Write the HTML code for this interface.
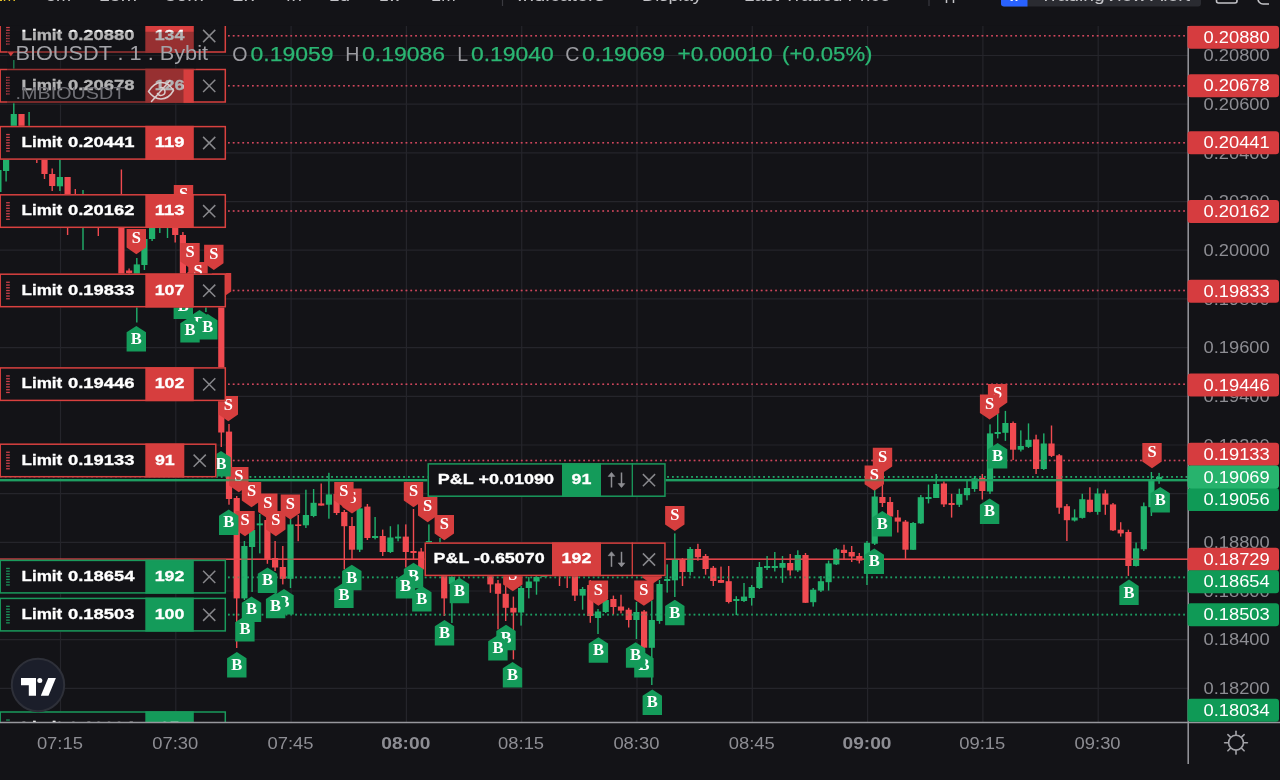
<!DOCTYPE html>
<html><head><meta charset="utf-8"><title>BIOUSDT chart</title>
<style>html,body{margin:0;padding:0;background:#131317;width:1280px;height:780px;overflow:hidden;font-family:"Liberation Sans",sans-serif}</style>
</head><body>
<svg width="1280" height="780" viewBox="0 0 1280 780" style="display:block;will-change:transform">
<rect width="1280" height="780" fill="#131317"/>
<defs><clipPath id="chart"><rect x="0" y="26" width="1188.5" height="696"/></clipPath><clipPath id="axis"><rect x="1188" y="24" width="92" height="700"/></clipPath></defs>
<g stroke="#25252b" stroke-width="1.2" clip-path="url(#chart)">
<line x1="60.5" y1="26" x2="60.5" y2="722"/>
<line x1="175.8" y1="26" x2="175.8" y2="722"/>
<line x1="291.1" y1="26" x2="291.1" y2="722"/>
<line x1="406.4" y1="26" x2="406.4" y2="722"/>
<line x1="521.7" y1="26" x2="521.7" y2="722"/>
<line x1="637.0" y1="26" x2="637.0" y2="722"/>
<line x1="752.3" y1="26" x2="752.3" y2="722"/>
<line x1="867.6" y1="26" x2="867.6" y2="722"/>
<line x1="982.9" y1="26" x2="982.9" y2="722"/>
<line x1="1098.2" y1="26" x2="1098.2" y2="722"/>
<line x1="0" y1="55.5" x2="1188" y2="55.5"/>
<line x1="0" y1="104.2" x2="1188" y2="104.2"/>
<line x1="0" y1="152.9" x2="1188" y2="152.9"/>
<line x1="0" y1="201.6" x2="1188" y2="201.6"/>
<line x1="0" y1="250.2" x2="1188" y2="250.2"/>
<line x1="0" y1="298.9" x2="1188" y2="298.9"/>
<line x1="0" y1="347.6" x2="1188" y2="347.6"/>
<line x1="0" y1="396.3" x2="1188" y2="396.3"/>
<line x1="0" y1="445.0" x2="1188" y2="445.0"/>
<line x1="0" y1="493.7" x2="1188" y2="493.7"/>
<line x1="0" y1="542.3" x2="1188" y2="542.3"/>
<line x1="0" y1="591.0" x2="1188" y2="591.0"/>
<line x1="0" y1="639.7" x2="1188" y2="639.7"/>
<line x1="0" y1="688.4" x2="1188" y2="688.4"/>
</g>
<g clip-path="url(#chart)">
<line x1="228" y1="35.8" x2="1188" y2="35.8" stroke="#cf475d" stroke-width="1.6" stroke-dasharray="1.7 3.1" />
<line x1="228" y1="85.7" x2="1188" y2="85.7" stroke="#cf475d" stroke-width="1.6" stroke-dasharray="1.7 3.1" />
<line x1="228" y1="142.8" x2="1188" y2="142.8" stroke="#cf475d" stroke-width="1.6" stroke-dasharray="1.7 3.1" />
<line x1="228" y1="211.0" x2="1188" y2="211.0" stroke="#cf475d" stroke-width="1.6" stroke-dasharray="1.7 3.1" />
<line x1="228" y1="290.5" x2="1188" y2="290.5" stroke="#cf475d" stroke-width="1.6" stroke-dasharray="1.7 3.1" />
<line x1="228" y1="384.2" x2="1188" y2="384.2" stroke="#cf475d" stroke-width="1.6" stroke-dasharray="1.7 3.1" />
<line x1="218.5" y1="460.5" x2="1188" y2="460.5" stroke="#cf475d" stroke-width="1.6" stroke-dasharray="1.7 3.1" />
<line x1="228" y1="577.4" x2="1188" y2="577.4" stroke="#1d9d62" stroke-width="1.6" stroke-dasharray="1.7 3.1" />
<line x1="228" y1="614.6" x2="1188" y2="614.6" stroke="#1d9d62" stroke-width="1.6" stroke-dasharray="1.7 3.1" />
<line x1="228" y1="728.3" x2="1188" y2="728.3" stroke="#1d9d62" stroke-width="1.6" stroke-dasharray="1.7 3.1" />
<line x1="0" y1="476.9" x2="1188" y2="476.9" stroke="#23a868" stroke-width="1.6" stroke-dasharray="1.7 3.1" />
<line x1="0" y1="480.2" x2="1188" y2="480.2" stroke="#1f9e62" stroke-width="2.2"/>
<line x1="0" y1="559.3" x2="1188" y2="559.3" stroke="#e0444a" stroke-width="1.4"/>
</g>
<g clip-path="url(#chart)">
<rect x="-2.3" y="165.0" width="1.4" height="30.0" fill="#21b16c"/>
<rect x="-4.7" y="170.0" width="6.2" height="22.0" fill="#21b16c"/>
<rect x="5.4" y="146.0" width="1.4" height="35.5" fill="#21b16c"/>
<rect x="3.0" y="150.0" width="6.2" height="21.0" fill="#21b16c"/>
<rect x="13.1" y="60.0" width="1.4" height="80.0" fill="#21b16c"/>
<rect x="10.7" y="114.0" width="6.2" height="21.0" fill="#21b16c"/>
<rect x="20.8" y="114.0" width="1.4" height="39.0" fill="#f04a50"/>
<rect x="18.4" y="114.0" width="6.2" height="36.0" fill="#f04a50"/>
<rect x="28.4" y="112.0" width="1.4" height="38.0" fill="#21b16c"/>
<rect x="26.0" y="128.0" width="6.2" height="20.0" fill="#21b16c"/>
<rect x="36.1" y="130.0" width="1.4" height="33.0" fill="#f04a50"/>
<rect x="33.7" y="135.0" width="6.2" height="21.0" fill="#f04a50"/>
<rect x="43.8" y="146.0" width="1.4" height="33.0" fill="#f04a50"/>
<rect x="41.4" y="150.0" width="6.2" height="24.0" fill="#f04a50"/>
<rect x="51.5" y="168.5" width="1.4" height="22.5" fill="#f04a50"/>
<rect x="49.1" y="174.0" width="6.2" height="12.0" fill="#f04a50"/>
<rect x="59.2" y="155.0" width="1.4" height="36.0" fill="#21b16c"/>
<rect x="56.8" y="177.0" width="6.2" height="9.3" fill="#21b16c"/>
<rect x="66.9" y="177.0" width="1.4" height="58.0" fill="#f04a50"/>
<rect x="64.5" y="177.0" width="6.2" height="51.0" fill="#f04a50"/>
<rect x="74.6" y="189.0" width="1.4" height="37.0" fill="#f04a50"/>
<rect x="72.2" y="200.0" width="6.2" height="22.0" fill="#f04a50"/>
<rect x="82.3" y="190.0" width="1.4" height="60.0" fill="#21b16c"/>
<rect x="79.9" y="205.0" width="6.2" height="17.0" fill="#21b16c"/>
<rect x="89.9" y="200.0" width="1.4" height="25.0" fill="#f04a50"/>
<rect x="87.5" y="205.0" width="6.2" height="17.0" fill="#f04a50"/>
<rect x="97.6" y="198.0" width="1.4" height="38.0" fill="#f04a50"/>
<rect x="95.2" y="200.0" width="6.2" height="26.0" fill="#f04a50"/>
<rect x="105.3" y="200.0" width="1.4" height="26.0" fill="#21b16c"/>
<rect x="102.9" y="204.0" width="6.2" height="18.0" fill="#21b16c"/>
<rect x="113.0" y="198.0" width="1.4" height="26.0" fill="#f04a50"/>
<rect x="110.6" y="202.0" width="6.2" height="18.0" fill="#f04a50"/>
<rect x="120.7" y="169.5" width="1.4" height="120.5" fill="#f04a50"/>
<rect x="118.3" y="200.0" width="6.2" height="85.0" fill="#f04a50"/>
<rect x="128.4" y="268.5" width="1.4" height="7.5" fill="#f04a50"/>
<rect x="126.0" y="270.5" width="6.2" height="2.5" fill="#f04a50"/>
<rect x="136.1" y="258.0" width="1.4" height="64.5" fill="#21b16c"/>
<rect x="133.7" y="264.4" width="6.2" height="20.6" fill="#21b16c"/>
<rect x="143.7" y="232.0" width="1.4" height="38.0" fill="#21b16c"/>
<rect x="141.3" y="239.0" width="6.2" height="26.0" fill="#21b16c"/>
<rect x="151.4" y="218.0" width="1.4" height="23.0" fill="#21b16c"/>
<rect x="149.0" y="222.0" width="6.2" height="17.0" fill="#21b16c"/>
<rect x="159.1" y="210.0" width="1.4" height="23.0" fill="#21b16c"/>
<rect x="156.7" y="214.0" width="6.2" height="14.0" fill="#21b16c"/>
<rect x="166.8" y="208.0" width="1.4" height="30.0" fill="#21b16c"/>
<rect x="164.4" y="212.0" width="6.2" height="14.0" fill="#21b16c"/>
<rect x="174.5" y="215.0" width="1.4" height="27.5" fill="#f04a50"/>
<rect x="172.1" y="220.0" width="6.2" height="15.0" fill="#f04a50"/>
<rect x="182.2" y="232.0" width="1.4" height="48.0" fill="#f04a50"/>
<rect x="179.8" y="235.0" width="6.2" height="40.0" fill="#f04a50"/>
<rect x="189.9" y="268.0" width="1.4" height="34.0" fill="#f04a50"/>
<rect x="187.5" y="272.0" width="6.2" height="26.0" fill="#f04a50"/>
<rect x="197.6" y="276.0" width="1.4" height="28.0" fill="#21b16c"/>
<rect x="195.2" y="280.0" width="6.2" height="20.0" fill="#21b16c"/>
<rect x="205.2" y="278.0" width="1.4" height="34.0" fill="#21b16c"/>
<rect x="202.8" y="282.0" width="6.2" height="18.0" fill="#21b16c"/>
<rect x="212.9" y="276.0" width="1.4" height="24.0" fill="#f04a50"/>
<rect x="210.5" y="280.0" width="6.2" height="12.0" fill="#f04a50"/>
<rect x="220.6" y="280.0" width="1.4" height="167.0" fill="#f04a50"/>
<rect x="218.2" y="285.0" width="6.2" height="147.5" fill="#f04a50"/>
<rect x="228.3" y="424.0" width="1.4" height="80.7" fill="#f04a50"/>
<rect x="225.9" y="431.6" width="6.2" height="67.4" fill="#f04a50"/>
<rect x="236.0" y="496.0" width="1.4" height="152.0" fill="#f04a50"/>
<rect x="233.6" y="498.0" width="6.2" height="100.4" fill="#f04a50"/>
<rect x="243.7" y="541.0" width="1.4" height="59.0" fill="#21b16c"/>
<rect x="241.3" y="546.0" width="6.2" height="52.4" fill="#21b16c"/>
<rect x="251.4" y="515.0" width="1.4" height="77.0" fill="#21b16c"/>
<rect x="249.0" y="530.0" width="6.2" height="17.0" fill="#21b16c"/>
<rect x="259.1" y="514.0" width="1.4" height="39.4" fill="#21b16c"/>
<rect x="256.7" y="523.4" width="6.2" height="1.9" fill="#21b16c"/>
<rect x="266.7" y="515.0" width="1.4" height="48.8" fill="#f04a50"/>
<rect x="264.3" y="520.0" width="6.2" height="39.0" fill="#f04a50"/>
<rect x="274.4" y="541.0" width="1.4" height="30.0" fill="#f04a50"/>
<rect x="272.0" y="558.0" width="6.2" height="9.5" fill="#f04a50"/>
<rect x="282.1" y="546.0" width="1.4" height="38.4" fill="#f04a50"/>
<rect x="279.7" y="567.0" width="6.2" height="11.8" fill="#f04a50"/>
<rect x="289.8" y="518.0" width="1.4" height="70.0" fill="#21b16c"/>
<rect x="287.4" y="524.4" width="6.2" height="54.4" fill="#21b16c"/>
<rect x="297.5" y="515.0" width="1.4" height="26.2" fill="#f04a50"/>
<rect x="295.1" y="524.4" width="6.2" height="1.6" fill="#f04a50"/>
<rect x="305.2" y="489.7" width="1.4" height="38.3" fill="#21b16c"/>
<rect x="302.8" y="515.0" width="6.2" height="10.3" fill="#21b16c"/>
<rect x="312.9" y="489.0" width="1.4" height="28.2" fill="#21b16c"/>
<rect x="310.5" y="502.8" width="6.2" height="13.2" fill="#21b16c"/>
<rect x="320.5" y="483.5" width="1.4" height="22.1" fill="#f04a50"/>
<rect x="318.1" y="503.4" width="6.2" height="2.2" fill="#f04a50"/>
<rect x="328.2" y="472.8" width="1.4" height="45.9" fill="#21b16c"/>
<rect x="325.8" y="494.4" width="6.2" height="10.3" fill="#21b16c"/>
<rect x="335.9" y="488.0" width="1.4" height="27.0" fill="#f04a50"/>
<rect x="333.5" y="494.0" width="6.2" height="19.0" fill="#f04a50"/>
<rect x="343.6" y="510.0" width="1.4" height="59.4" fill="#f04a50"/>
<rect x="341.2" y="512.0" width="6.2" height="14.2" fill="#f04a50"/>
<rect x="351.3" y="517.0" width="1.4" height="43.0" fill="#f04a50"/>
<rect x="348.9" y="526.0" width="6.2" height="23.7" fill="#f04a50"/>
<rect x="359.0" y="505.0" width="1.4" height="47.0" fill="#21b16c"/>
<rect x="356.6" y="508.4" width="6.2" height="41.3" fill="#21b16c"/>
<rect x="366.7" y="504.0" width="1.4" height="36.0" fill="#f04a50"/>
<rect x="364.3" y="506.6" width="6.2" height="31.4" fill="#f04a50"/>
<rect x="374.4" y="517.0" width="1.4" height="22.4" fill="#21b16c"/>
<rect x="372.0" y="536.0" width="6.2" height="2.0" fill="#21b16c"/>
<rect x="382.0" y="529.6" width="1.4" height="26.4" fill="#f04a50"/>
<rect x="379.6" y="536.0" width="6.2" height="16.0" fill="#f04a50"/>
<rect x="389.7" y="526.2" width="1.4" height="26.8" fill="#21b16c"/>
<rect x="387.3" y="537.5" width="6.2" height="14.5" fill="#21b16c"/>
<rect x="397.4" y="524.4" width="1.4" height="16.9" fill="#21b16c"/>
<rect x="395.0" y="536.6" width="6.2" height="1.8" fill="#21b16c"/>
<rect x="405.1" y="524.4" width="1.4" height="43.1" fill="#f04a50"/>
<rect x="402.7" y="536.6" width="6.2" height="15.4" fill="#f04a50"/>
<rect x="412.8" y="509.0" width="1.4" height="50.0" fill="#f04a50"/>
<rect x="410.4" y="551.0" width="6.2" height="2.0" fill="#f04a50"/>
<rect x="420.5" y="548.0" width="1.4" height="24.0" fill="#f04a50"/>
<rect x="418.1" y="551.5" width="6.2" height="17.9" fill="#f04a50"/>
<rect x="428.2" y="524.4" width="1.4" height="40.6" fill="#21b16c"/>
<rect x="425.8" y="541.0" width="6.2" height="19.0" fill="#21b16c"/>
<rect x="439.3" y="538.0" width="1.4" height="30.0" fill="#21b16c"/>
<rect x="436.9" y="543.0" width="6.2" height="22.0" fill="#21b16c"/>
<rect x="443.5" y="555.0" width="1.4" height="61.0" fill="#f04a50"/>
<rect x="441.1" y="560.0" width="6.2" height="38.4" fill="#f04a50"/>
<rect x="451.2" y="570.0" width="1.4" height="53.0" fill="#21b16c"/>
<rect x="448.8" y="577.0" width="6.2" height="7.0" fill="#21b16c"/>
<rect x="458.9" y="556.0" width="1.4" height="19.0" fill="#21b16c"/>
<rect x="456.5" y="560.0" width="6.2" height="15.0" fill="#21b16c"/>
<rect x="466.6" y="554.0" width="1.4" height="19.0" fill="#f04a50"/>
<rect x="464.2" y="558.0" width="6.2" height="12.0" fill="#f04a50"/>
<rect x="474.3" y="552.0" width="1.4" height="20.0" fill="#21b16c"/>
<rect x="471.9" y="556.0" width="6.2" height="12.0" fill="#21b16c"/>
<rect x="482.0" y="556.0" width="1.4" height="19.0" fill="#f04a50"/>
<rect x="479.6" y="560.0" width="6.2" height="15.0" fill="#f04a50"/>
<rect x="489.7" y="560.0" width="1.4" height="32.8" fill="#f04a50"/>
<rect x="487.3" y="565.0" width="6.2" height="19.4" fill="#f04a50"/>
<rect x="497.3" y="580.0" width="1.4" height="49.4" fill="#f04a50"/>
<rect x="494.9" y="583.4" width="6.2" height="10.4" fill="#f04a50"/>
<rect x="505.0" y="586.0" width="1.4" height="35.0" fill="#f04a50"/>
<rect x="502.6" y="593.8" width="6.2" height="14.0" fill="#f04a50"/>
<rect x="512.7" y="596.6" width="1.4" height="62.8" fill="#f04a50"/>
<rect x="510.3" y="607.8" width="6.2" height="4.7" fill="#f04a50"/>
<rect x="520.4" y="586.0" width="1.4" height="39.6" fill="#21b16c"/>
<rect x="518.0" y="588.0" width="6.2" height="24.5" fill="#21b16c"/>
<rect x="528.1" y="577.0" width="1.4" height="21.4" fill="#21b16c"/>
<rect x="525.7" y="581.5" width="6.2" height="6.5" fill="#21b16c"/>
<rect x="535.8" y="572.0" width="1.4" height="22.7" fill="#21b16c"/>
<rect x="533.4" y="577.0" width="6.2" height="4.5" fill="#21b16c"/>
<rect x="543.5" y="560.0" width="1.4" height="17.0" fill="#21b16c"/>
<rect x="541.1" y="565.0" width="6.2" height="12.0" fill="#21b16c"/>
<rect x="551.2" y="558.0" width="1.4" height="16.0" fill="#f04a50"/>
<rect x="548.8" y="562.0" width="6.2" height="10.0" fill="#f04a50"/>
<rect x="558.8" y="556.0" width="1.4" height="30.0" fill="#f04a50"/>
<rect x="556.4" y="560.0" width="6.2" height="14.0" fill="#f04a50"/>
<rect x="566.5" y="558.0" width="1.4" height="30.0" fill="#f04a50"/>
<rect x="564.1" y="562.0" width="6.2" height="13.0" fill="#f04a50"/>
<rect x="574.2" y="560.0" width="1.4" height="41.0" fill="#f04a50"/>
<rect x="571.8" y="565.0" width="6.2" height="30.6" fill="#f04a50"/>
<rect x="581.9" y="587.0" width="1.4" height="22.7" fill="#21b16c"/>
<rect x="579.5" y="589.0" width="6.2" height="6.6" fill="#21b16c"/>
<rect x="589.6" y="580.0" width="1.4" height="42.8" fill="#f04a50"/>
<rect x="587.2" y="585.0" width="6.2" height="31.0" fill="#f04a50"/>
<rect x="597.3" y="609.0" width="1.4" height="25.0" fill="#21b16c"/>
<rect x="594.9" y="611.5" width="6.2" height="6.5" fill="#21b16c"/>
<rect x="605.0" y="598.0" width="1.4" height="15.0" fill="#21b16c"/>
<rect x="602.6" y="600.0" width="6.2" height="12.0" fill="#21b16c"/>
<rect x="612.7" y="595.6" width="1.4" height="18.8" fill="#f04a50"/>
<rect x="610.3" y="599.0" width="6.2" height="8.0" fill="#f04a50"/>
<rect x="620.3" y="594.7" width="1.4" height="18.7" fill="#f04a50"/>
<rect x="617.9" y="606.5" width="6.2" height="4.1" fill="#f04a50"/>
<rect x="628.0" y="607.8" width="1.4" height="19.7" fill="#f04a50"/>
<rect x="625.6" y="609.7" width="6.2" height="10.3" fill="#f04a50"/>
<rect x="635.7" y="602.0" width="1.4" height="37.0" fill="#21b16c"/>
<rect x="633.3" y="612.0" width="6.2" height="8.0" fill="#21b16c"/>
<rect x="643.4" y="610.0" width="1.4" height="37.8" fill="#f04a50"/>
<rect x="641.0" y="611.5" width="6.2" height="36.2" fill="#f04a50"/>
<rect x="651.1" y="600.5" width="1.4" height="84.5" fill="#21b16c"/>
<rect x="648.7" y="620.0" width="6.2" height="27.8" fill="#21b16c"/>
<rect x="658.8" y="580.0" width="1.4" height="43.8" fill="#21b16c"/>
<rect x="656.4" y="584.0" width="6.2" height="37.0" fill="#21b16c"/>
<rect x="666.5" y="564.4" width="1.4" height="28.2" fill="#21b16c"/>
<rect x="664.1" y="579.0" width="6.2" height="2.0" fill="#21b16c"/>
<rect x="674.1" y="533.4" width="1.4" height="63.6" fill="#21b16c"/>
<rect x="671.8" y="559.7" width="6.2" height="20.6" fill="#21b16c"/>
<rect x="681.8" y="558.0" width="1.4" height="28.0" fill="#f04a50"/>
<rect x="679.4" y="559.7" width="6.2" height="12.3" fill="#f04a50"/>
<rect x="689.5" y="547.0" width="1.4" height="28.6" fill="#21b16c"/>
<rect x="687.1" y="549.0" width="6.2" height="23.0" fill="#21b16c"/>
<rect x="697.2" y="543.8" width="1.4" height="16.9" fill="#f04a50"/>
<rect x="694.8" y="549.0" width="6.2" height="8.2" fill="#f04a50"/>
<rect x="704.9" y="554.0" width="1.4" height="20.7" fill="#f04a50"/>
<rect x="702.5" y="556.0" width="6.2" height="13.0" fill="#f04a50"/>
<rect x="712.6" y="566.0" width="1.4" height="20.0" fill="#f04a50"/>
<rect x="710.2" y="567.8" width="6.2" height="13.2" fill="#f04a50"/>
<rect x="720.3" y="566.6" width="1.4" height="16.4" fill="#f04a50"/>
<rect x="717.9" y="580.0" width="6.2" height="2.8" fill="#f04a50"/>
<rect x="728.0" y="566.0" width="1.4" height="37.4" fill="#f04a50"/>
<rect x="725.6" y="581.2" width="6.2" height="20.8" fill="#f04a50"/>
<rect x="735.6" y="596.2" width="1.4" height="18.8" fill="#21b16c"/>
<rect x="733.2" y="599.0" width="6.2" height="2.0" fill="#21b16c"/>
<rect x="743.3" y="583.0" width="1.4" height="19.0" fill="#21b16c"/>
<rect x="740.9" y="596.6" width="6.2" height="4.4" fill="#21b16c"/>
<rect x="751.0" y="585.0" width="1.4" height="20.6" fill="#21b16c"/>
<rect x="748.6" y="587.0" width="6.2" height="11.0" fill="#21b16c"/>
<rect x="758.7" y="562.0" width="1.4" height="27.0" fill="#21b16c"/>
<rect x="756.3" y="567.0" width="6.2" height="21.0" fill="#21b16c"/>
<rect x="766.4" y="556.0" width="1.4" height="14.0" fill="#21b16c"/>
<rect x="764.0" y="566.0" width="6.2" height="2.0" fill="#21b16c"/>
<rect x="774.1" y="552.0" width="1.4" height="19.5" fill="#21b16c"/>
<rect x="771.7" y="566.0" width="6.2" height="2.0" fill="#21b16c"/>
<rect x="781.8" y="556.0" width="1.4" height="26.8" fill="#21b16c"/>
<rect x="779.4" y="563.0" width="6.2" height="4.8" fill="#21b16c"/>
<rect x="789.5" y="554.0" width="1.4" height="21.6" fill="#f04a50"/>
<rect x="787.1" y="563.0" width="6.2" height="7.4" fill="#f04a50"/>
<rect x="797.1" y="550.3" width="1.4" height="21.7" fill="#21b16c"/>
<rect x="794.7" y="555.0" width="6.2" height="15.4" fill="#21b16c"/>
<rect x="804.8" y="553.0" width="1.4" height="50.0" fill="#f04a50"/>
<rect x="802.4" y="555.0" width="6.2" height="47.8" fill="#f04a50"/>
<rect x="812.5" y="588.0" width="1.4" height="18.6" fill="#21b16c"/>
<rect x="810.1" y="589.7" width="6.2" height="12.5" fill="#21b16c"/>
<rect x="820.2" y="576.0" width="1.4" height="16.0" fill="#21b16c"/>
<rect x="817.8" y="581.2" width="6.2" height="9.4" fill="#21b16c"/>
<rect x="827.9" y="560.6" width="1.4" height="30.0" fill="#21b16c"/>
<rect x="825.5" y="563.4" width="6.2" height="18.8" fill="#21b16c"/>
<rect x="835.6" y="548.0" width="1.4" height="17.0" fill="#21b16c"/>
<rect x="833.2" y="549.4" width="6.2" height="15.0" fill="#21b16c"/>
<rect x="843.3" y="544.7" width="1.4" height="15.0" fill="#f04a50"/>
<rect x="840.9" y="549.8" width="6.2" height="3.2" fill="#f04a50"/>
<rect x="851.0" y="546.0" width="1.4" height="16.0" fill="#f04a50"/>
<rect x="848.6" y="552.0" width="6.2" height="4.5" fill="#f04a50"/>
<rect x="858.6" y="553.0" width="1.4" height="10.4" fill="#f04a50"/>
<rect x="856.2" y="556.0" width="6.2" height="4.6" fill="#f04a50"/>
<rect x="866.3" y="541.0" width="1.4" height="44.0" fill="#21b16c"/>
<rect x="863.9" y="542.8" width="6.2" height="31.0" fill="#21b16c"/>
<rect x="874.0" y="484.0" width="1.4" height="61.0" fill="#21b16c"/>
<rect x="871.6" y="496.5" width="6.2" height="47.2" fill="#21b16c"/>
<rect x="881.7" y="484.0" width="1.4" height="23.0" fill="#f04a50"/>
<rect x="879.3" y="497.0" width="6.2" height="6.0" fill="#f04a50"/>
<rect x="889.4" y="497.0" width="1.4" height="28.0" fill="#f04a50"/>
<rect x="887.0" y="502.0" width="6.2" height="14.5" fill="#f04a50"/>
<rect x="897.1" y="510.0" width="1.4" height="22.5" fill="#f04a50"/>
<rect x="894.7" y="517.5" width="6.2" height="4.1" fill="#f04a50"/>
<rect x="904.8" y="520.0" width="1.4" height="38.8" fill="#f04a50"/>
<rect x="902.4" y="521.6" width="6.2" height="28.1" fill="#f04a50"/>
<rect x="912.4" y="522.0" width="1.4" height="28.0" fill="#21b16c"/>
<rect x="910.0" y="523.0" width="6.2" height="26.8" fill="#21b16c"/>
<rect x="920.1" y="495.0" width="1.4" height="29.0" fill="#21b16c"/>
<rect x="917.7" y="497.2" width="6.2" height="26.2" fill="#21b16c"/>
<rect x="927.8" y="484.5" width="1.4" height="18.9" fill="#21b16c"/>
<rect x="925.4" y="497.0" width="6.2" height="2.0" fill="#21b16c"/>
<rect x="935.5" y="474.0" width="1.4" height="24.0" fill="#21b16c"/>
<rect x="933.1" y="484.0" width="6.2" height="14.0" fill="#21b16c"/>
<rect x="943.2" y="481.5" width="1.4" height="25.5" fill="#f04a50"/>
<rect x="940.8" y="483.5" width="6.2" height="20.9" fill="#f04a50"/>
<rect x="950.9" y="493.8" width="1.4" height="23.8" fill="#f04a50"/>
<rect x="948.5" y="503.0" width="6.2" height="2.0" fill="#f04a50"/>
<rect x="958.6" y="488.7" width="1.4" height="18.3" fill="#21b16c"/>
<rect x="956.2" y="494.0" width="6.2" height="10.8" fill="#21b16c"/>
<rect x="966.3" y="480.0" width="1.4" height="20.3" fill="#21b16c"/>
<rect x="963.9" y="488.0" width="6.2" height="7.2" fill="#21b16c"/>
<rect x="973.9" y="476.0" width="1.4" height="15.8" fill="#21b16c"/>
<rect x="971.5" y="478.4" width="6.2" height="10.6" fill="#21b16c"/>
<rect x="981.6" y="474.0" width="1.4" height="25.5" fill="#f04a50"/>
<rect x="979.2" y="477.8" width="6.2" height="13.2" fill="#f04a50"/>
<rect x="989.3" y="424.4" width="1.4" height="69.6" fill="#21b16c"/>
<rect x="986.9" y="433.4" width="6.2" height="58.1" fill="#21b16c"/>
<rect x="997.0" y="414.0" width="1.4" height="24.4" fill="#21b16c"/>
<rect x="994.6" y="432.0" width="6.2" height="2.0" fill="#21b16c"/>
<rect x="1004.7" y="410.9" width="1.4" height="30.0" fill="#21b16c"/>
<rect x="1002.3" y="423.0" width="6.2" height="9.8" fill="#21b16c"/>
<rect x="1012.4" y="421.5" width="1.4" height="38.5" fill="#f04a50"/>
<rect x="1010.0" y="423.0" width="6.2" height="26.7" fill="#f04a50"/>
<rect x="1020.1" y="430.4" width="1.4" height="21.1" fill="#21b16c"/>
<rect x="1017.7" y="446.0" width="6.2" height="3.7" fill="#21b16c"/>
<rect x="1027.8" y="423.4" width="1.4" height="24.6" fill="#21b16c"/>
<rect x="1025.4" y="439.8" width="6.2" height="7.1" fill="#21b16c"/>
<rect x="1035.4" y="434.7" width="1.4" height="39.3" fill="#f04a50"/>
<rect x="1033.0" y="439.4" width="6.2" height="29.6" fill="#f04a50"/>
<rect x="1043.1" y="433.4" width="1.4" height="36.6" fill="#21b16c"/>
<rect x="1040.7" y="443.5" width="6.2" height="25.5" fill="#21b16c"/>
<rect x="1050.8" y="425.5" width="1.4" height="31.5" fill="#f04a50"/>
<rect x="1048.4" y="443.5" width="6.2" height="12.4" fill="#f04a50"/>
<rect x="1058.5" y="454.0" width="1.4" height="59.8" fill="#f04a50"/>
<rect x="1056.1" y="455.3" width="6.2" height="52.4" fill="#f04a50"/>
<rect x="1066.2" y="504.0" width="1.4" height="37.0" fill="#f04a50"/>
<rect x="1063.8" y="506.2" width="6.2" height="14.0" fill="#f04a50"/>
<rect x="1073.9" y="509.3" width="1.4" height="12.2" fill="#21b16c"/>
<rect x="1071.5" y="517.5" width="6.2" height="3.0" fill="#21b16c"/>
<rect x="1081.6" y="493.8" width="1.4" height="24.8" fill="#21b16c"/>
<rect x="1079.2" y="499.2" width="6.2" height="18.7" fill="#21b16c"/>
<rect x="1089.2" y="487.3" width="1.4" height="25.2" fill="#f04a50"/>
<rect x="1086.8" y="499.7" width="6.2" height="12.2" fill="#f04a50"/>
<rect x="1096.9" y="488.4" width="1.4" height="26.3" fill="#21b16c"/>
<rect x="1094.5" y="493.5" width="6.2" height="18.4" fill="#21b16c"/>
<rect x="1104.6" y="489.8" width="1.4" height="25.0" fill="#f04a50"/>
<rect x="1102.2" y="493.5" width="6.2" height="11.2" fill="#f04a50"/>
<rect x="1112.3" y="503.0" width="1.4" height="28.0" fill="#f04a50"/>
<rect x="1109.9" y="504.4" width="6.2" height="25.9" fill="#f04a50"/>
<rect x="1120.0" y="522.2" width="1.4" height="14.4" fill="#f04a50"/>
<rect x="1117.6" y="529.7" width="6.2" height="3.7" fill="#f04a50"/>
<rect x="1127.7" y="529.7" width="1.4" height="46.2" fill="#f04a50"/>
<rect x="1125.3" y="532.0" width="6.2" height="34.0" fill="#f04a50"/>
<rect x="1135.4" y="542.5" width="1.4" height="24.0" fill="#21b16c"/>
<rect x="1133.0" y="548.4" width="6.2" height="17.6" fill="#21b16c"/>
<rect x="1143.1" y="502.5" width="1.4" height="48.5" fill="#21b16c"/>
<rect x="1140.7" y="506.2" width="6.2" height="43.1" fill="#21b16c"/>
<rect x="1150.7" y="472.0" width="1.4" height="44.0" fill="#21b16c"/>
<rect x="1148.3" y="480.0" width="6.2" height="27.2" fill="#21b16c"/>
<rect x="1158.4" y="472.9" width="1.4" height="10.9" fill="#21b16c"/>
<rect x="1156.0" y="477.0" width="6.2" height="2.0" fill="#21b16c"/>
</g>
<g clip-path="url(#chart)" opacity="0.45">
<line x1="228" y1="35.8" x2="1188" y2="35.8" stroke="#cf475d" stroke-width="1.6" stroke-dasharray="1.7 3.1" />
<line x1="228" y1="85.7" x2="1188" y2="85.7" stroke="#cf475d" stroke-width="1.6" stroke-dasharray="1.7 3.1" />
<line x1="228" y1="142.8" x2="1188" y2="142.8" stroke="#cf475d" stroke-width="1.6" stroke-dasharray="1.7 3.1" />
<line x1="228" y1="211.0" x2="1188" y2="211.0" stroke="#cf475d" stroke-width="1.6" stroke-dasharray="1.7 3.1" />
<line x1="228" y1="290.5" x2="1188" y2="290.5" stroke="#cf475d" stroke-width="1.6" stroke-dasharray="1.7 3.1" />
<line x1="228" y1="384.2" x2="1188" y2="384.2" stroke="#cf475d" stroke-width="1.6" stroke-dasharray="1.7 3.1" />
<line x1="218.5" y1="460.5" x2="1188" y2="460.5" stroke="#cf475d" stroke-width="1.6" stroke-dasharray="1.7 3.1" />
<line x1="228" y1="577.4" x2="1188" y2="577.4" stroke="#1d9d62" stroke-width="1.6" stroke-dasharray="1.7 3.1" />
<line x1="228" y1="614.6" x2="1188" y2="614.6" stroke="#1d9d62" stroke-width="1.6" stroke-dasharray="1.7 3.1" />
<line x1="228" y1="728.3" x2="1188" y2="728.3" stroke="#1d9d62" stroke-width="1.6" stroke-dasharray="1.7 3.1" />
<line x1="0" y1="476.9" x2="1188" y2="476.9" stroke="#23a868" stroke-width="1.6" stroke-dasharray="1.7 3.1" />
<line x1="0" y1="480.2" x2="1188" y2="480.2" stroke="#1f9e62" stroke-width="2.2"/>
<line x1="0" y1="559.3" x2="1188" y2="559.3" stroke="#e0444a" stroke-width="1.4"/>
</g>
<g clip-path="url(#chart)">
<path d="M173.8 185.0h19.4v18.6l-9.7 6.6l-9.7 -6.6z" fill="#d63e3e"/>
<text x="183.5" y="199.4" font-family="Liberation Serif, serif" font-weight="bold" font-size="16.5" fill="#fff" text-anchor="middle">S</text>
<path d="M126.6 229.0h19.4v18.6l-9.7 6.6l-9.7 -6.6z" fill="#d63e3e"/>
<text x="136.3" y="243.4" font-family="Liberation Serif, serif" font-weight="bold" font-size="16.5" fill="#fff" text-anchor="middle">S</text>
<path d="M188.3 262.0h19.4v18.6l-9.7 6.6l-9.7 -6.6z" fill="#d63e3e"/>
<text x="198.0" y="276.4" font-family="Liberation Serif, serif" font-weight="bold" font-size="16.5" fill="#fff" text-anchor="middle">S</text>
<path d="M211.8 273.0h19.4v18.6l-9.7 6.6l-9.7 -6.6z" fill="#d63e3e"/>
<text x="221.5" y="287.4" font-family="Liberation Serif, serif" font-weight="bold" font-size="16.5" fill="#fff" text-anchor="middle">S</text>
<path d="M180.3 243.0h19.4v18.6l-9.7 6.6l-9.7 -6.6z" fill="#d63e3e"/>
<text x="190.0" y="257.4" font-family="Liberation Serif, serif" font-weight="bold" font-size="16.5" fill="#fff" text-anchor="middle">S</text>
<path d="M204.1 244.7h19.4v18.6l-9.7 6.6l-9.7 -6.6z" fill="#d63e3e"/>
<text x="213.8" y="259.1" font-family="Liberation Serif, serif" font-weight="bold" font-size="16.5" fill="#fff" text-anchor="middle">S</text>
<path d="M218.6 396.0h19.4v18.6l-9.7 6.6l-9.7 -6.6z" fill="#d63e3e"/>
<text x="228.3" y="410.4" font-family="Liberation Serif, serif" font-weight="bold" font-size="16.5" fill="#fff" text-anchor="middle">S</text>
<path d="M229.1 467.0h19.4v18.6l-9.7 6.6l-9.7 -6.6z" fill="#d63e3e"/>
<text x="238.8" y="481.4" font-family="Liberation Serif, serif" font-weight="bold" font-size="16.5" fill="#fff" text-anchor="middle">S</text>
<path d="M342.3 488.4h19.4v18.6l-9.7 6.6l-9.7 -6.6z" fill="#d63e3e"/>
<text x="352.0" y="502.8" font-family="Liberation Serif, serif" font-weight="bold" font-size="16.5" fill="#fff" text-anchor="middle">S</text>
<path d="M403.8 482.0h19.4v18.6l-9.7 6.6l-9.7 -6.6z" fill="#d63e3e"/>
<text x="413.5" y="496.4" font-family="Liberation Serif, serif" font-weight="bold" font-size="16.5" fill="#fff" text-anchor="middle">S</text>
<path d="M503.1 566.0h19.4v18.6l-9.7 6.6l-9.7 -6.6z" fill="#d63e3e"/>
<text x="512.8" y="580.4" font-family="Liberation Serif, serif" font-weight="bold" font-size="16.5" fill="#fff" text-anchor="middle">S</text>
<path d="M588.7 580.6h19.4v18.6l-9.7 6.6l-9.7 -6.6z" fill="#d63e3e"/>
<text x="598.4" y="595.0" font-family="Liberation Serif, serif" font-weight="bold" font-size="16.5" fill="#fff" text-anchor="middle">S</text>
<path d="M642.3 559.0h19.4v18.6l-9.7 6.6l-9.7 -6.6z" fill="#d63e3e"/>
<text x="652.0" y="573.4" font-family="Liberation Serif, serif" font-weight="bold" font-size="16.5" fill="#fff" text-anchor="middle">S</text>
<path d="M665.1 505.9h19.4v18.6l-9.7 6.6l-9.7 -6.6z" fill="#d63e3e"/>
<text x="674.8" y="520.3" font-family="Liberation Serif, serif" font-weight="bold" font-size="16.5" fill="#fff" text-anchor="middle">S</text>
<path d="M872.8 447.8h19.4v18.6l-9.7 6.6l-9.7 -6.6z" fill="#d63e3e"/>
<text x="882.5" y="462.2" font-family="Liberation Serif, serif" font-weight="bold" font-size="16.5" fill="#fff" text-anchor="middle">S</text>
<path d="M987.9 384.0h19.4v18.6l-9.7 6.6l-9.7 -6.6z" fill="#d63e3e"/>
<text x="997.6" y="398.4" font-family="Liberation Serif, serif" font-weight="bold" font-size="16.5" fill="#fff" text-anchor="middle">S</text>
<path d="M1142.3 443.0h19.4v18.6l-9.7 6.6l-9.7 -6.6z" fill="#d63e3e"/>
<text x="1152.0" y="457.4" font-family="Liberation Serif, serif" font-weight="bold" font-size="16.5" fill="#fff" text-anchor="middle">S</text>
<path d="M126.6 332.3l9.7 -6.3l9.7 6.3v19.2h-19.4z" fill="#149b5a"/>
<text x="136.3" y="343.9" font-family="Liberation Serif, serif" font-weight="bold" font-size="16.5" fill="#fff" text-anchor="middle">B</text>
<path d="M173.6 299.8l9.7 -6.3l9.7 6.3v19.2h-19.4z" fill="#149b5a"/>
<text x="183.2" y="311.4" font-family="Liberation Serif, serif" font-weight="bold" font-size="16.5" fill="#fff" text-anchor="middle">B</text>
<path d="M189.8 316.3l9.7 -6.3l9.7 6.3v19.2h-19.4z" fill="#149b5a"/>
<text x="199.5" y="327.9" font-family="Liberation Serif, serif" font-weight="bold" font-size="16.5" fill="#fff" text-anchor="middle">B</text>
<path d="M211.3 457.3l9.7 -6.3l9.7 6.3v19.2h-19.4z" fill="#149b5a"/>
<text x="221.0" y="468.9" font-family="Liberation Serif, serif" font-weight="bold" font-size="16.5" fill="#fff" text-anchor="middle">B</text>
<path d="M227.1 658.3l9.7 -6.3l9.7 6.3v19.2h-19.4z" fill="#149b5a"/>
<text x="236.8" y="669.9" font-family="Liberation Serif, serif" font-weight="bold" font-size="16.5" fill="#fff" text-anchor="middle">B</text>
<path d="M241.8 602.8l9.7 -6.3l9.7 6.3v19.2h-19.4z" fill="#149b5a"/>
<text x="251.5" y="614.4" font-family="Liberation Serif, serif" font-weight="bold" font-size="16.5" fill="#fff" text-anchor="middle">B</text>
<path d="M257.8 573.8l9.7 -6.3l9.7 6.3v19.2h-19.4z" fill="#149b5a"/>
<text x="267.5" y="585.4" font-family="Liberation Serif, serif" font-weight="bold" font-size="16.5" fill="#fff" text-anchor="middle">B</text>
<path d="M274.3 595.3l9.7 -6.3l9.7 6.3v19.2h-19.4z" fill="#149b5a"/>
<text x="284.0" y="606.9" font-family="Liberation Serif, serif" font-weight="bold" font-size="16.5" fill="#fff" text-anchor="middle">B</text>
<path d="M342.1 571.0l9.7 -6.3l9.7 6.3v19.2h-19.4z" fill="#149b5a"/>
<text x="351.8" y="582.6" font-family="Liberation Serif, serif" font-weight="bold" font-size="16.5" fill="#fff" text-anchor="middle">B</text>
<path d="M403.8 569.1l9.7 -6.3l9.7 6.3v19.2h-19.4z" fill="#149b5a"/>
<text x="413.5" y="580.7" font-family="Liberation Serif, serif" font-weight="bold" font-size="16.5" fill="#fff" text-anchor="middle">B</text>
<path d="M434.8 626.3l9.7 -6.3l9.7 6.3v19.2h-19.4z" fill="#149b5a"/>
<text x="444.5" y="637.9" font-family="Liberation Serif, serif" font-weight="bold" font-size="16.5" fill="#fff" text-anchor="middle">B</text>
<path d="M449.7 584.1l9.7 -6.3l9.7 6.3v19.2h-19.4z" fill="#149b5a"/>
<text x="459.4" y="595.7" font-family="Liberation Serif, serif" font-weight="bold" font-size="16.5" fill="#fff" text-anchor="middle">B</text>
<path d="M496.3 631.0l9.7 -6.3l9.7 6.3v19.2h-19.4z" fill="#149b5a"/>
<text x="506.0" y="642.6" font-family="Liberation Serif, serif" font-weight="bold" font-size="16.5" fill="#fff" text-anchor="middle">B</text>
<path d="M502.8 668.3l9.7 -6.3l9.7 6.3v19.2h-19.4z" fill="#149b5a"/>
<text x="512.5" y="679.9" font-family="Liberation Serif, serif" font-weight="bold" font-size="16.5" fill="#fff" text-anchor="middle">B</text>
<path d="M588.7 643.5l9.7 -6.3l9.7 6.3v19.2h-19.4z" fill="#149b5a"/>
<text x="598.4" y="655.1" font-family="Liberation Serif, serif" font-weight="bold" font-size="16.5" fill="#fff" text-anchor="middle">B</text>
<path d="M634.2 658.3l9.7 -6.3l9.7 6.3v19.2h-19.4z" fill="#149b5a"/>
<text x="643.9" y="669.9" font-family="Liberation Serif, serif" font-weight="bold" font-size="16.5" fill="#fff" text-anchor="middle">B</text>
<path d="M642.6 695.7l9.7 -6.3l9.7 6.3v19.2h-19.4z" fill="#149b5a"/>
<text x="652.3" y="707.3" font-family="Liberation Serif, serif" font-weight="bold" font-size="16.5" fill="#fff" text-anchor="middle">B</text>
<path d="M665.1 606.0l9.7 -6.3l9.7 6.3v19.2h-19.4z" fill="#149b5a"/>
<text x="674.8" y="617.6" font-family="Liberation Serif, serif" font-weight="bold" font-size="16.5" fill="#fff" text-anchor="middle">B</text>
<path d="M864.6 554.7l9.7 -6.3l9.7 6.3v19.2h-19.4z" fill="#149b5a"/>
<text x="874.3" y="566.3" font-family="Liberation Serif, serif" font-weight="bold" font-size="16.5" fill="#fff" text-anchor="middle">B</text>
<path d="M872.6 517.3l9.7 -6.3l9.7 6.3v19.2h-19.4z" fill="#149b5a"/>
<text x="882.3" y="528.9" font-family="Liberation Serif, serif" font-weight="bold" font-size="16.5" fill="#fff" text-anchor="middle">B</text>
<path d="M987.9 449.3l9.7 -6.3l9.7 6.3v19.2h-19.4z" fill="#149b5a"/>
<text x="997.6" y="460.9" font-family="Liberation Serif, serif" font-weight="bold" font-size="16.5" fill="#fff" text-anchor="middle">B</text>
<path d="M979.9 504.7l9.7 -6.3l9.7 6.3v19.2h-19.4z" fill="#149b5a"/>
<text x="989.6" y="516.3" font-family="Liberation Serif, serif" font-weight="bold" font-size="16.5" fill="#fff" text-anchor="middle">B</text>
<path d="M1150.5 493.3l9.7 -6.3l9.7 6.3v19.2h-19.4z" fill="#149b5a"/>
<text x="1160.2" y="504.9" font-family="Liberation Serif, serif" font-weight="bold" font-size="16.5" fill="#fff" text-anchor="middle">B</text>
<path d="M1119.3 585.9l9.7 -6.3l9.7 6.3v19.2h-19.4z" fill="#149b5a"/>
<text x="1129.0" y="597.5" font-family="Liberation Serif, serif" font-weight="bold" font-size="16.5" fill="#fff" text-anchor="middle">B</text>
<path d="M241.8 482.0h19.4v18.6l-9.7 6.6l-9.7 -6.6z" fill="#d63e3e"/>
<text x="251.5" y="496.4" font-family="Liberation Serif, serif" font-weight="bold" font-size="16.5" fill="#fff" text-anchor="middle">S</text>
<path d="M334.2 482.0h19.4v18.6l-9.7 6.6l-9.7 -6.6z" fill="#d63e3e"/>
<text x="343.9" y="496.4" font-family="Liberation Serif, serif" font-weight="bold" font-size="16.5" fill="#fff" text-anchor="middle">S</text>
<path d="M418.0 497.0h19.4v18.6l-9.7 6.6l-9.7 -6.6z" fill="#d63e3e"/>
<text x="427.7" y="511.4" font-family="Liberation Serif, serif" font-weight="bold" font-size="16.5" fill="#fff" text-anchor="middle">S</text>
<path d="M634.2 580.6h19.4v18.6l-9.7 6.6l-9.7 -6.6z" fill="#d63e3e"/>
<text x="643.9" y="595.0" font-family="Liberation Serif, serif" font-weight="bold" font-size="16.5" fill="#fff" text-anchor="middle">S</text>
<path d="M864.6 465.6h19.4v18.6l-9.7 6.6l-9.7 -6.6z" fill="#d63e3e"/>
<text x="874.3" y="480.0" font-family="Liberation Serif, serif" font-weight="bold" font-size="16.5" fill="#fff" text-anchor="middle">S</text>
<path d="M979.9 394.4h19.4v18.6l-9.7 6.6l-9.7 -6.6z" fill="#d63e3e"/>
<text x="989.6" y="408.8" font-family="Liberation Serif, serif" font-weight="bold" font-size="16.5" fill="#fff" text-anchor="middle">S</text>
<path d="M198.1 320.3l9.7 -6.3l9.7 6.3v19.2h-19.4z" fill="#149b5a"/>
<text x="207.8" y="331.9" font-family="Liberation Serif, serif" font-weight="bold" font-size="16.5" fill="#fff" text-anchor="middle">B</text>
<path d="M235.2 622.3l9.7 -6.3l9.7 6.3v19.2h-19.4z" fill="#149b5a"/>
<text x="244.9" y="633.9" font-family="Liberation Serif, serif" font-weight="bold" font-size="16.5" fill="#fff" text-anchor="middle">B</text>
<path d="M265.9 599.1l9.7 -6.3l9.7 6.3v19.2h-19.4z" fill="#149b5a"/>
<text x="275.6" y="610.7" font-family="Liberation Serif, serif" font-weight="bold" font-size="16.5" fill="#fff" text-anchor="middle">B</text>
<path d="M334.2 588.8l9.7 -6.3l9.7 6.3v19.2h-19.4z" fill="#149b5a"/>
<text x="343.9" y="600.4" font-family="Liberation Serif, serif" font-weight="bold" font-size="16.5" fill="#fff" text-anchor="middle">B</text>
<path d="M395.8 579.3l9.7 -6.3l9.7 6.3v19.2h-19.4z" fill="#149b5a"/>
<text x="405.5" y="590.9" font-family="Liberation Serif, serif" font-weight="bold" font-size="16.5" fill="#fff" text-anchor="middle">B</text>
<path d="M488.2 641.3l9.7 -6.3l9.7 6.3v19.2h-19.4z" fill="#149b5a"/>
<text x="497.9" y="652.9" font-family="Liberation Serif, serif" font-weight="bold" font-size="16.5" fill="#fff" text-anchor="middle">B</text>
<path d="M625.9 648.6l9.7 -6.3l9.7 6.3v19.2h-19.4z" fill="#149b5a"/>
<text x="635.6" y="660.2" font-family="Liberation Serif, serif" font-weight="bold" font-size="16.5" fill="#fff" text-anchor="middle">B</text>
<path d="M258.1 493.4h19.4v18.6l-9.7 6.6l-9.7 -6.6z" fill="#d63e3e"/>
<text x="267.8" y="507.8" font-family="Liberation Serif, serif" font-weight="bold" font-size="16.5" fill="#fff" text-anchor="middle">S</text>
<path d="M280.7 494.4h19.4v18.6l-9.7 6.6l-9.7 -6.6z" fill="#d63e3e"/>
<text x="290.4" y="508.8" font-family="Liberation Serif, serif" font-weight="bold" font-size="16.5" fill="#fff" text-anchor="middle">S</text>
<path d="M434.6 515.0h19.4v18.6l-9.7 6.6l-9.7 -6.6z" fill="#d63e3e"/>
<text x="444.3" y="529.4" font-family="Liberation Serif, serif" font-weight="bold" font-size="16.5" fill="#fff" text-anchor="middle">S</text>
<path d="M180.3 323.3l9.7 -6.3l9.7 6.3v19.2h-19.4z" fill="#149b5a"/>
<text x="190.0" y="334.9" font-family="Liberation Serif, serif" font-weight="bold" font-size="16.5" fill="#fff" text-anchor="middle">B</text>
<path d="M412.1 592.3l9.7 -6.3l9.7 6.3v19.2h-19.4z" fill="#149b5a"/>
<text x="421.8" y="603.9" font-family="Liberation Serif, serif" font-weight="bold" font-size="16.5" fill="#fff" text-anchor="middle">B</text>
<path d="M235.3 511.0h19.4v18.6l-9.7 6.6l-9.7 -6.6z" fill="#d63e3e"/>
<text x="245.0" y="525.4" font-family="Liberation Serif, serif" font-weight="bold" font-size="16.5" fill="#fff" text-anchor="middle">S</text>
<path d="M266.1 511.0h19.4v18.6l-9.7 6.6l-9.7 -6.6z" fill="#d63e3e"/>
<text x="275.8" y="525.4" font-family="Liberation Serif, serif" font-weight="bold" font-size="16.5" fill="#fff" text-anchor="middle">S</text>
<path d="M219.0 515.7l9.7 -6.3l9.7 6.3v19.2h-19.4z" fill="#149b5a"/>
<text x="228.7" y="527.3" font-family="Liberation Serif, serif" font-weight="bold" font-size="16.5" fill="#fff" text-anchor="middle">B</text>
</g>
<line x1="0" y1="480.2" x2="1188" y2="480.2" stroke="#1f9e62" stroke-width="2.2" opacity="0.45" clip-path="url(#chart)"/>
<g clip-path="url(#chart)">
<rect x="0" y="18.8" width="226.0" height="34" fill="#131317"/>
<rect x="145.3" y="18.8" width="48.5" height="34" fill="#d63e3e"/>
<rect x="0.2" y="19.5" width="225.1" height="32.5" fill="none" stroke="#d9413f" stroke-width="1.5"/>
<rect x="6.1" y="26.9" width="3.7" height="1.3" fill="#cc4049"/>
<rect x="6.1" y="29.6" width="3.7" height="1.3" fill="#cc4049"/>
<rect x="6.1" y="32.4" width="3.7" height="1.3" fill="#cc4049"/>
<rect x="6.1" y="35.1" width="3.7" height="1.3" fill="#cc4049"/>
<rect x="6.1" y="37.9" width="3.7" height="1.3" fill="#cc4049"/>
<rect x="6.1" y="40.6" width="3.7" height="1.3" fill="#cc4049"/>
<rect x="6.1" y="43.4" width="3.7" height="1.3" fill="#cc4049"/>
<text x="21.5" y="39.9" font-family="Liberation Sans, sans-serif" font-weight="bold" font-size="15.2" fill="#fff" stroke="#fff" stroke-width="0.3" textLength="40.8" lengthAdjust="spacingAndGlyphs">Limit</text>
<text x="68" y="39.9" font-family="Liberation Sans, sans-serif" font-weight="bold" font-size="15.2" fill="#fff" stroke="#fff" stroke-width="0.3" textLength="66.6" lengthAdjust="spacingAndGlyphs">0.20880</text>
<text x="154.7" y="39.9" font-family="Liberation Sans, sans-serif" font-weight="bold" font-size="15.2" fill="#fff" stroke="#fff" stroke-width="0.3" textLength="29.7" lengthAdjust="spacingAndGlyphs">134</text>
<path d="M203.1 29.9L215.3 42.1M215.3 29.9L203.1 42.1" stroke="#88888c" stroke-width="1.5" fill="none"/>
<rect x="0" y="68.7" width="226.0" height="34" fill="#131317"/>
<rect x="145.3" y="68.7" width="48.5" height="34" fill="#d63e3e"/>
<rect x="0.2" y="69.5" width="225.1" height="32.5" fill="none" stroke="#d9413f" stroke-width="1.5"/>
<rect x="6.1" y="76.8" width="3.7" height="1.3" fill="#cc4049"/>
<rect x="6.1" y="79.5" width="3.7" height="1.3" fill="#cc4049"/>
<rect x="6.1" y="82.3" width="3.7" height="1.3" fill="#cc4049"/>
<rect x="6.1" y="85.0" width="3.7" height="1.3" fill="#cc4049"/>
<rect x="6.1" y="87.8" width="3.7" height="1.3" fill="#cc4049"/>
<rect x="6.1" y="90.5" width="3.7" height="1.3" fill="#cc4049"/>
<rect x="6.1" y="93.3" width="3.7" height="1.3" fill="#cc4049"/>
<text x="21.5" y="89.8" font-family="Liberation Sans, sans-serif" font-weight="bold" font-size="15.2" fill="#fff" stroke="#fff" stroke-width="0.3" textLength="40.8" lengthAdjust="spacingAndGlyphs">Limit</text>
<text x="68" y="89.8" font-family="Liberation Sans, sans-serif" font-weight="bold" font-size="15.2" fill="#fff" stroke="#fff" stroke-width="0.3" textLength="66.6" lengthAdjust="spacingAndGlyphs">0.20678</text>
<text x="154.7" y="89.8" font-family="Liberation Sans, sans-serif" font-weight="bold" font-size="15.2" fill="#fff" stroke="#fff" stroke-width="0.3" textLength="29.7" lengthAdjust="spacingAndGlyphs">126</text>
<path d="M203.1 79.8L215.3 92.0M215.3 79.8L203.1 92.0" stroke="#88888c" stroke-width="1.5" fill="none"/>
<rect x="0" y="125.8" width="226.0" height="34" fill="#131317"/>
<rect x="145.3" y="125.8" width="48.5" height="34" fill="#d63e3e"/>
<rect x="0.2" y="126.6" width="225.1" height="32.5" fill="none" stroke="#d9413f" stroke-width="1.5"/>
<rect x="6.1" y="133.9" width="3.7" height="1.3" fill="#cc4049"/>
<rect x="6.1" y="136.7" width="3.7" height="1.3" fill="#cc4049"/>
<rect x="6.1" y="139.4" width="3.7" height="1.3" fill="#cc4049"/>
<rect x="6.1" y="142.2" width="3.7" height="1.3" fill="#cc4049"/>
<rect x="6.1" y="144.9" width="3.7" height="1.3" fill="#cc4049"/>
<rect x="6.1" y="147.7" width="3.7" height="1.3" fill="#cc4049"/>
<rect x="6.1" y="150.4" width="3.7" height="1.3" fill="#cc4049"/>
<text x="21.5" y="146.9" font-family="Liberation Sans, sans-serif" font-weight="bold" font-size="15.2" fill="#fff" stroke="#fff" stroke-width="0.3" textLength="40.8" lengthAdjust="spacingAndGlyphs">Limit</text>
<text x="68" y="146.9" font-family="Liberation Sans, sans-serif" font-weight="bold" font-size="15.2" fill="#fff" stroke="#fff" stroke-width="0.3" textLength="66.6" lengthAdjust="spacingAndGlyphs">0.20441</text>
<text x="154.7" y="146.9" font-family="Liberation Sans, sans-serif" font-weight="bold" font-size="15.2" fill="#fff" stroke="#fff" stroke-width="0.3" textLength="29.7" lengthAdjust="spacingAndGlyphs">119</text>
<path d="M203.1 136.9L215.3 149.1M215.3 136.9L203.1 149.1" stroke="#88888c" stroke-width="1.5" fill="none"/>
<rect x="0" y="194.0" width="226.0" height="34" fill="#131317"/>
<rect x="145.3" y="194.0" width="48.5" height="34" fill="#d63e3e"/>
<rect x="0.2" y="194.8" width="225.1" height="32.5" fill="none" stroke="#d9413f" stroke-width="1.5"/>
<rect x="6.1" y="202.1" width="3.7" height="1.3" fill="#cc4049"/>
<rect x="6.1" y="204.8" width="3.7" height="1.3" fill="#cc4049"/>
<rect x="6.1" y="207.6" width="3.7" height="1.3" fill="#cc4049"/>
<rect x="6.1" y="210.3" width="3.7" height="1.3" fill="#cc4049"/>
<rect x="6.1" y="213.1" width="3.7" height="1.3" fill="#cc4049"/>
<rect x="6.1" y="215.8" width="3.7" height="1.3" fill="#cc4049"/>
<rect x="6.1" y="218.6" width="3.7" height="1.3" fill="#cc4049"/>
<text x="21.5" y="215.1" font-family="Liberation Sans, sans-serif" font-weight="bold" font-size="15.2" fill="#fff" stroke="#fff" stroke-width="0.3" textLength="40.8" lengthAdjust="spacingAndGlyphs">Limit</text>
<text x="68" y="215.1" font-family="Liberation Sans, sans-serif" font-weight="bold" font-size="15.2" fill="#fff" stroke="#fff" stroke-width="0.3" textLength="66.6" lengthAdjust="spacingAndGlyphs">0.20162</text>
<text x="154.7" y="215.1" font-family="Liberation Sans, sans-serif" font-weight="bold" font-size="15.2" fill="#fff" stroke="#fff" stroke-width="0.3" textLength="29.7" lengthAdjust="spacingAndGlyphs">113</text>
<path d="M203.1 205.1L215.3 217.3M215.3 205.1L203.1 217.3" stroke="#88888c" stroke-width="1.5" fill="none"/>
<rect x="0" y="273.5" width="226.0" height="34" fill="#131317"/>
<rect x="145.3" y="273.5" width="48.5" height="34" fill="#d63e3e"/>
<rect x="0.2" y="274.2" width="225.1" height="32.5" fill="none" stroke="#d9413f" stroke-width="1.5"/>
<rect x="6.1" y="281.6" width="3.7" height="1.3" fill="#cc4049"/>
<rect x="6.1" y="284.4" width="3.7" height="1.3" fill="#cc4049"/>
<rect x="6.1" y="287.1" width="3.7" height="1.3" fill="#cc4049"/>
<rect x="6.1" y="289.9" width="3.7" height="1.3" fill="#cc4049"/>
<rect x="6.1" y="292.6" width="3.7" height="1.3" fill="#cc4049"/>
<rect x="6.1" y="295.4" width="3.7" height="1.3" fill="#cc4049"/>
<rect x="6.1" y="298.1" width="3.7" height="1.3" fill="#cc4049"/>
<text x="21.5" y="294.6" font-family="Liberation Sans, sans-serif" font-weight="bold" font-size="15.2" fill="#fff" stroke="#fff" stroke-width="0.3" textLength="40.8" lengthAdjust="spacingAndGlyphs">Limit</text>
<text x="68" y="294.6" font-family="Liberation Sans, sans-serif" font-weight="bold" font-size="15.2" fill="#fff" stroke="#fff" stroke-width="0.3" textLength="66.6" lengthAdjust="spacingAndGlyphs">0.19833</text>
<text x="154.7" y="294.6" font-family="Liberation Sans, sans-serif" font-weight="bold" font-size="15.2" fill="#fff" stroke="#fff" stroke-width="0.3" textLength="29.7" lengthAdjust="spacingAndGlyphs">107</text>
<path d="M203.1 284.6L215.3 296.8M215.3 284.6L203.1 296.8" stroke="#88888c" stroke-width="1.5" fill="none"/>
<rect x="0" y="367.2" width="226.0" height="34" fill="#131317"/>
<rect x="145.3" y="367.2" width="48.5" height="34" fill="#d63e3e"/>
<rect x="0.2" y="367.9" width="225.1" height="32.5" fill="none" stroke="#d9413f" stroke-width="1.5"/>
<rect x="6.1" y="375.3" width="3.7" height="1.3" fill="#cc4049"/>
<rect x="6.1" y="378.1" width="3.7" height="1.3" fill="#cc4049"/>
<rect x="6.1" y="380.8" width="3.7" height="1.3" fill="#cc4049"/>
<rect x="6.1" y="383.6" width="3.7" height="1.3" fill="#cc4049"/>
<rect x="6.1" y="386.3" width="3.7" height="1.3" fill="#cc4049"/>
<rect x="6.1" y="389.1" width="3.7" height="1.3" fill="#cc4049"/>
<rect x="6.1" y="391.8" width="3.7" height="1.3" fill="#cc4049"/>
<text x="21.5" y="388.3" font-family="Liberation Sans, sans-serif" font-weight="bold" font-size="15.2" fill="#fff" stroke="#fff" stroke-width="0.3" textLength="40.8" lengthAdjust="spacingAndGlyphs">Limit</text>
<text x="68" y="388.3" font-family="Liberation Sans, sans-serif" font-weight="bold" font-size="15.2" fill="#fff" stroke="#fff" stroke-width="0.3" textLength="66.6" lengthAdjust="spacingAndGlyphs">0.19446</text>
<text x="154.7" y="388.3" font-family="Liberation Sans, sans-serif" font-weight="bold" font-size="15.2" fill="#fff" stroke="#fff" stroke-width="0.3" textLength="29.7" lengthAdjust="spacingAndGlyphs">102</text>
<path d="M203.1 378.3L215.3 390.5M215.3 378.3L203.1 390.5" stroke="#88888c" stroke-width="1.5" fill="none"/>
<rect x="0" y="443.5" width="216.5" height="34" fill="#131317"/>
<rect x="145.3" y="443.5" width="39.0" height="34" fill="#d63e3e"/>
<rect x="0.2" y="444.2" width="215.6" height="32.5" fill="none" stroke="#d9413f" stroke-width="1.5"/>
<rect x="6.1" y="451.6" width="3.7" height="1.3" fill="#cc4049"/>
<rect x="6.1" y="454.4" width="3.7" height="1.3" fill="#cc4049"/>
<rect x="6.1" y="457.1" width="3.7" height="1.3" fill="#cc4049"/>
<rect x="6.1" y="459.9" width="3.7" height="1.3" fill="#cc4049"/>
<rect x="6.1" y="462.6" width="3.7" height="1.3" fill="#cc4049"/>
<rect x="6.1" y="465.4" width="3.7" height="1.3" fill="#cc4049"/>
<rect x="6.1" y="468.1" width="3.7" height="1.3" fill="#cc4049"/>
<text x="21.5" y="464.6" font-family="Liberation Sans, sans-serif" font-weight="bold" font-size="15.2" fill="#fff" stroke="#fff" stroke-width="0.3" textLength="40.8" lengthAdjust="spacingAndGlyphs">Limit</text>
<text x="68" y="464.6" font-family="Liberation Sans, sans-serif" font-weight="bold" font-size="15.2" fill="#fff" stroke="#fff" stroke-width="0.3" textLength="66.6" lengthAdjust="spacingAndGlyphs">0.19133</text>
<text x="154.9" y="464.6" font-family="Liberation Sans, sans-serif" font-weight="bold" font-size="15.2" fill="#fff" stroke="#fff" stroke-width="0.3" textLength="19.8" lengthAdjust="spacingAndGlyphs">91</text>
<path d="M193.6 454.6L205.8 466.8M205.8 454.6L193.6 466.8" stroke="#88888c" stroke-width="1.5" fill="none"/>
<rect x="0" y="559.7" width="226.0" height="34" fill="#131317"/>
<rect x="145.3" y="559.7" width="48.5" height="34" fill="#149b5a"/>
<rect x="0.2" y="560.4" width="225.1" height="32.5" fill="none" stroke="#1a9a5c" stroke-width="1.5"/>
<rect x="6.1" y="567.8" width="3.7" height="1.3" fill="#1b9159"/>
<rect x="6.1" y="570.5" width="3.7" height="1.3" fill="#1b9159"/>
<rect x="6.1" y="573.3" width="3.7" height="1.3" fill="#1b9159"/>
<rect x="6.1" y="576.0" width="3.7" height="1.3" fill="#1b9159"/>
<rect x="6.1" y="578.8" width="3.7" height="1.3" fill="#1b9159"/>
<rect x="6.1" y="581.5" width="3.7" height="1.3" fill="#1b9159"/>
<rect x="6.1" y="584.3" width="3.7" height="1.3" fill="#1b9159"/>
<text x="21.5" y="580.8" font-family="Liberation Sans, sans-serif" font-weight="bold" font-size="15.2" fill="#fff" stroke="#fff" stroke-width="0.3" textLength="40.8" lengthAdjust="spacingAndGlyphs">Limit</text>
<text x="68" y="580.8" font-family="Liberation Sans, sans-serif" font-weight="bold" font-size="15.2" fill="#fff" stroke="#fff" stroke-width="0.3" textLength="66.6" lengthAdjust="spacingAndGlyphs">0.18654</text>
<text x="154.7" y="580.8" font-family="Liberation Sans, sans-serif" font-weight="bold" font-size="15.2" fill="#fff" stroke="#fff" stroke-width="0.3" textLength="29.7" lengthAdjust="spacingAndGlyphs">192</text>
<path d="M203.1 570.8L215.3 583.0M215.3 570.8L203.1 583.0" stroke="#88888c" stroke-width="1.5" fill="none"/>
<rect x="0" y="597.6" width="226.0" height="34" fill="#131317"/>
<rect x="145.3" y="597.6" width="48.5" height="34" fill="#149b5a"/>
<rect x="0.2" y="598.4" width="225.1" height="32.5" fill="none" stroke="#1a9a5c" stroke-width="1.5"/>
<rect x="6.1" y="605.7" width="3.7" height="1.3" fill="#1b9159"/>
<rect x="6.1" y="608.5" width="3.7" height="1.3" fill="#1b9159"/>
<rect x="6.1" y="611.2" width="3.7" height="1.3" fill="#1b9159"/>
<rect x="6.1" y="614.0" width="3.7" height="1.3" fill="#1b9159"/>
<rect x="6.1" y="616.7" width="3.7" height="1.3" fill="#1b9159"/>
<rect x="6.1" y="619.5" width="3.7" height="1.3" fill="#1b9159"/>
<rect x="6.1" y="622.2" width="3.7" height="1.3" fill="#1b9159"/>
<text x="21.5" y="618.7" font-family="Liberation Sans, sans-serif" font-weight="bold" font-size="15.2" fill="#fff" stroke="#fff" stroke-width="0.3" textLength="40.8" lengthAdjust="spacingAndGlyphs">Limit</text>
<text x="68" y="618.7" font-family="Liberation Sans, sans-serif" font-weight="bold" font-size="15.2" fill="#fff" stroke="#fff" stroke-width="0.3" textLength="66.6" lengthAdjust="spacingAndGlyphs">0.18503</text>
<text x="154.7" y="618.7" font-family="Liberation Sans, sans-serif" font-weight="bold" font-size="15.2" fill="#fff" stroke="#fff" stroke-width="0.3" textLength="29.7" lengthAdjust="spacingAndGlyphs">100</text>
<path d="M203.1 608.7L215.3 620.9M215.3 608.7L203.1 620.9" stroke="#88888c" stroke-width="1.5" fill="none"/>
<rect x="0" y="711.3" width="226.0" height="34" fill="#131317"/>
<rect x="145.3" y="711.3" width="48.5" height="34" fill="#149b5a"/>
<rect x="0.2" y="712.0" width="225.1" height="32.5" fill="none" stroke="#1a9a5c" stroke-width="1.5"/>
<rect x="6.1" y="719.4" width="3.7" height="1.3" fill="#1b9159"/>
<rect x="6.1" y="722.1" width="3.7" height="1.3" fill="#1b9159"/>
<rect x="6.1" y="724.9" width="3.7" height="1.3" fill="#1b9159"/>
<rect x="6.1" y="727.6" width="3.7" height="1.3" fill="#1b9159"/>
<rect x="6.1" y="730.4" width="3.7" height="1.3" fill="#1b9159"/>
<rect x="6.1" y="733.1" width="3.7" height="1.3" fill="#1b9159"/>
<rect x="6.1" y="735.9" width="3.7" height="1.3" fill="#1b9159"/>
<text x="21.5" y="732.4" font-family="Liberation Sans, sans-serif" font-weight="bold" font-size="15.2" fill="#fff" stroke="#fff" stroke-width="0.3" textLength="40.8" lengthAdjust="spacingAndGlyphs">Limit</text>
<text x="68" y="732.4" font-family="Liberation Sans, sans-serif" font-weight="bold" font-size="15.2" fill="#fff" stroke="#fff" stroke-width="0.3" textLength="66.6" lengthAdjust="spacingAndGlyphs">0.18034</text>
<text x="159.7" y="732.4" font-family="Liberation Sans, sans-serif" font-weight="bold" font-size="15.2" fill="#fff" stroke="#fff" stroke-width="0.3" textLength="19.8" lengthAdjust="spacingAndGlyphs">95</text>
<path d="M203.1 722.4L215.3 734.6M215.3 722.4L203.1 734.6" stroke="#88888c" stroke-width="1.5" fill="none"/>
<rect x="427.5" y="463.1" width="238.2" height="33.8" fill="#131317"/>
<rect x="562" y="463.1" width="39.0" height="33.8" fill="#149b5a"/>
<rect x="428.25" y="463.9" width="236.7" height="32.3" fill="none" stroke="#1a9a5c" stroke-width="1.5"/>
<line x1="632.3" y1="463.1" x2="632.3" y2="496.9" stroke="#1a9a5c" stroke-width="1.3"/>
<text x="437.8" y="484.1" font-family="Liberation Sans, sans-serif" font-weight="bold" font-size="15.2" fill="#fff" stroke="#fff" stroke-width="0.3" textLength="116.2" lengthAdjust="spacingAndGlyphs">P&amp;L +0.01090</text>
<text x="571.6" y="484.1" font-family="Liberation Sans, sans-serif" font-weight="bold" font-size="15.2" fill="#fff" stroke="#fff" stroke-width="0.3" textLength="19.8" lengthAdjust="spacingAndGlyphs">91</text>
<path d="M611.5 487.5V473.5" stroke="#8e8e93" stroke-width="1.5" fill="none"/>
<path d="M608.2 476.4L611.5 472.4L614.8 476.4z" fill="#8e8e93" stroke="#8e8e93" stroke-width="0.6"/>
<path d="M621.5 472.5V486.5" stroke="#8e8e93" stroke-width="1.5" fill="none"/>
<path d="M618.2 483.6L621.5 487.6L624.8 483.6z" fill="#8e8e93" stroke="#8e8e93" stroke-width="0.6"/>
<path d="M642.9 474.1L655.1 486.3M655.1 474.1L642.9 486.3" stroke="#88888c" stroke-width="1.5" fill="none"/>
<rect x="424.5" y="542.4" width="241.2" height="33.8" fill="#131317"/>
<rect x="552" y="542.4" width="49.0" height="33.8" fill="#d63e3e"/>
<rect x="425.25" y="543.1" width="239.7" height="32.3" fill="none" stroke="#d9413f" stroke-width="1.5"/>
<line x1="632.3" y1="542.4" x2="632.3" y2="576.2" stroke="#d9413f" stroke-width="1.3"/>
<text x="433.5" y="563.4" font-family="Liberation Sans, sans-serif" font-weight="bold" font-size="15.2" fill="#fff" stroke="#fff" stroke-width="0.3" textLength="111.2" lengthAdjust="spacingAndGlyphs">P&amp;L -0.65070</text>
<text x="561.6" y="563.4" font-family="Liberation Sans, sans-serif" font-weight="bold" font-size="15.2" fill="#fff" stroke="#fff" stroke-width="0.3" textLength="29.7" lengthAdjust="spacingAndGlyphs">192</text>
<path d="M611.5 566.8V552.8" stroke="#8e8e93" stroke-width="1.5" fill="none"/>
<path d="M608.2 555.7L611.5 551.7L614.8 555.7z" fill="#8e8e93" stroke="#8e8e93" stroke-width="0.6"/>
<path d="M621.5 551.8V565.8" stroke="#8e8e93" stroke-width="1.5" fill="none"/>
<path d="M618.2 562.9L621.5 566.9L624.8 562.9z" fill="#8e8e93" stroke="#8e8e93" stroke-width="0.6"/>
<path d="M642.9 553.4L655.1 565.6M655.1 553.4L642.9 565.6" stroke="#88888c" stroke-width="1.5" fill="none"/>
</g>
<g clip-path="url(#chart)">
<path d="M7 31.7H196V69.5H183.5V104H7z" fill="#131317" fill-opacity="0.32"/>
<path d="M7.7 52.3h6.3l-3.15 3.9z" fill="#d63e3e"/>
<text x="15.5" y="60" font-family="Liberation Sans, sans-serif" font-size="19.4" fill="#a3a3a8" textLength="192.5" lengthAdjust="spacingAndGlyphs">BIOUSDT . 1 . Bybit</text>
<text x="15.6" y="99" font-family="Liberation Sans, sans-serif" font-size="17" fill="#707076" textLength="109.6" lengthAdjust="spacingAndGlyphs">.MBIOUSDT</text>
<g fill="none" stroke="#d9cccc" stroke-width="1.5" stroke-linecap="round" stroke-linejoin="round"><path d="M148.5 91.5c4-6.5 9-9 13-9s8.5 2.500 12 8c-3.5 6-8 8.500-12.500 8.500s-8.500-2-12.500-7.500z"/><path d="M157.500 93.500a4 4 0 1 0 3-6"/><path d="M151.500 101.500L170 80.500"/></g>
<text x="239.9" y="61.4" font-family="Liberation Sans, sans-serif" font-size="19.6" fill="#9b9ba0" text-anchor="middle">O</text>
<text x="250.5" y="61.4" font-family="Liberation Sans, sans-serif" font-size="19.6" fill="#2bb673" stroke="#2bb673" stroke-width="0.25" textLength="83.0" lengthAdjust="spacingAndGlyphs">0.19059</text>
<text x="352.4" y="61.4" font-family="Liberation Sans, sans-serif" font-size="19.6" fill="#9b9ba0" text-anchor="middle">H</text>
<text x="362" y="61.4" font-family="Liberation Sans, sans-serif" font-size="19.6" fill="#2bb673" stroke="#2bb673" stroke-width="0.25" textLength="83.0" lengthAdjust="spacingAndGlyphs">0.19086</text>
<text x="462.8" y="61.4" font-family="Liberation Sans, sans-serif" font-size="19.6" fill="#9b9ba0" text-anchor="middle">L</text>
<text x="471" y="61.4" font-family="Liberation Sans, sans-serif" font-size="19.6" fill="#2bb673" stroke="#2bb673" stroke-width="0.25" textLength="82.8" lengthAdjust="spacingAndGlyphs">0.19040</text>
<text x="572.4" y="61.4" font-family="Liberation Sans, sans-serif" font-size="19.6" fill="#9b9ba0" text-anchor="middle">C</text>
<text x="582" y="61.4" font-family="Liberation Sans, sans-serif" font-size="19.6" fill="#2bb673" stroke="#2bb673" stroke-width="0.25" textLength="83.0" lengthAdjust="spacingAndGlyphs">0.19069</text>
<text x="677.5" y="61.4" font-family="Liberation Sans, sans-serif" font-size="19.6" fill="#2bb673" stroke="#2bb673" stroke-width="0.25" textLength="95.0" lengthAdjust="spacingAndGlyphs">+0.00010</text>
<text x="782" y="61.4" font-family="Liberation Sans, sans-serif" font-size="19.6" fill="#2bb673" stroke="#2bb673" stroke-width="0.25" textLength="90.5" lengthAdjust="spacingAndGlyphs">(+0.05%)</text>
</g>
<rect x="0" y="722.8" width="1280" height="58" fill="#131317"/>
<rect x="1189" y="0" width="91" height="780" fill="#131317"/>
<line x1="0" y1="722.4" x2="1280" y2="722.4" stroke="#97979d" stroke-width="1.5"/>
<line x1="1188.2" y1="26" x2="1188.2" y2="764" stroke="#97979d" stroke-width="1.5"/>
<text x="36.9" y="748.6" font-family="Liberation Sans, sans-serif" font-size="15.8"  fill="#8d8d93" textLength="46" lengthAdjust="spacingAndGlyphs">07:15</text>
<text x="152.2" y="748.6" font-family="Liberation Sans, sans-serif" font-size="15.8"  fill="#8d8d93" textLength="46" lengthAdjust="spacingAndGlyphs">07:30</text>
<text x="267.5" y="748.6" font-family="Liberation Sans, sans-serif" font-size="15.8"  fill="#8d8d93" textLength="46" lengthAdjust="spacingAndGlyphs">07:45</text>
<text x="381.3" y="748.6" font-family="Liberation Sans, sans-serif" font-size="15.8" font-weight="bold" fill="#8d8d93" textLength="49" lengthAdjust="spacingAndGlyphs">08:00</text>
<text x="498.1" y="748.6" font-family="Liberation Sans, sans-serif" font-size="15.8"  fill="#8d8d93" textLength="46" lengthAdjust="spacingAndGlyphs">08:15</text>
<text x="613.4" y="748.6" font-family="Liberation Sans, sans-serif" font-size="15.8"  fill="#8d8d93" textLength="46" lengthAdjust="spacingAndGlyphs">08:30</text>
<text x="728.7" y="748.6" font-family="Liberation Sans, sans-serif" font-size="15.8"  fill="#8d8d93" textLength="46" lengthAdjust="spacingAndGlyphs">08:45</text>
<text x="842.5" y="748.6" font-family="Liberation Sans, sans-serif" font-size="15.8" font-weight="bold" fill="#8d8d93" textLength="49" lengthAdjust="spacingAndGlyphs">09:00</text>
<text x="959.3" y="748.6" font-family="Liberation Sans, sans-serif" font-size="15.8"  fill="#8d8d93" textLength="46" lengthAdjust="spacingAndGlyphs">09:15</text>
<text x="1074.6" y="748.6" font-family="Liberation Sans, sans-serif" font-size="15.8"  fill="#8d8d93" textLength="46" lengthAdjust="spacingAndGlyphs">09:30</text>
<text x="1203.5" y="61.1" font-family="Liberation Sans, sans-serif" font-size="15.6" fill="#8d8d93" textLength="66.2" lengthAdjust="spacingAndGlyphs">0.20800</text>
<text x="1203.5" y="109.8" font-family="Liberation Sans, sans-serif" font-size="15.6" fill="#8d8d93" textLength="66.2" lengthAdjust="spacingAndGlyphs">0.20600</text>
<text x="1203.5" y="158.5" font-family="Liberation Sans, sans-serif" font-size="15.6" fill="#8d8d93" textLength="66.2" lengthAdjust="spacingAndGlyphs">0.20400</text>
<text x="1203.5" y="207.2" font-family="Liberation Sans, sans-serif" font-size="15.6" fill="#8d8d93" textLength="66.2" lengthAdjust="spacingAndGlyphs">0.20200</text>
<text x="1203.5" y="255.8" font-family="Liberation Sans, sans-serif" font-size="15.6" fill="#8d8d93" textLength="66.2" lengthAdjust="spacingAndGlyphs">0.20000</text>
<text x="1203.5" y="304.5" font-family="Liberation Sans, sans-serif" font-size="15.6" fill="#8d8d93" textLength="66.2" lengthAdjust="spacingAndGlyphs">0.19800</text>
<text x="1203.5" y="353.2" font-family="Liberation Sans, sans-serif" font-size="15.6" fill="#8d8d93" textLength="66.2" lengthAdjust="spacingAndGlyphs">0.19600</text>
<text x="1203.5" y="401.9" font-family="Liberation Sans, sans-serif" font-size="15.6" fill="#8d8d93" textLength="66.2" lengthAdjust="spacingAndGlyphs">0.19400</text>
<text x="1203.5" y="450.6" font-family="Liberation Sans, sans-serif" font-size="15.6" fill="#8d8d93" textLength="66.2" lengthAdjust="spacingAndGlyphs">0.19200</text>
<text x="1203.5" y="499.3" font-family="Liberation Sans, sans-serif" font-size="15.6" fill="#8d8d93" textLength="66.2" lengthAdjust="spacingAndGlyphs">0.19000</text>
<text x="1203.5" y="547.9" font-family="Liberation Sans, sans-serif" font-size="15.6" fill="#8d8d93" textLength="66.2" lengthAdjust="spacingAndGlyphs">0.18800</text>
<text x="1203.5" y="596.6" font-family="Liberation Sans, sans-serif" font-size="15.6" fill="#8d8d93" textLength="66.2" lengthAdjust="spacingAndGlyphs">0.18600</text>
<text x="1203.5" y="645.3" font-family="Liberation Sans, sans-serif" font-size="15.6" fill="#8d8d93" textLength="66.2" lengthAdjust="spacingAndGlyphs">0.18400</text>
<text x="1203.5" y="694.0" font-family="Liberation Sans, sans-serif" font-size="15.6" fill="#8d8d93" textLength="66.2" lengthAdjust="spacingAndGlyphs">0.18200</text>
<rect x="1187.5" y="25.7" width="91.5" height="23" rx="3.2" fill="#d63c3f"/>
<text x="1203.5" y="42.8" font-family="Liberation Sans, sans-serif" font-size="15.6" fill="#fff" textLength="66.2" lengthAdjust="spacingAndGlyphs">0.20880</text>
<rect x="1187.5" y="74.2" width="91.5" height="23" rx="3.2" fill="#d63c3f"/>
<text x="1203.5" y="91.3" font-family="Liberation Sans, sans-serif" font-size="15.6" fill="#fff" textLength="66.2" lengthAdjust="spacingAndGlyphs">0.20678</text>
<rect x="1187.5" y="131.3" width="91.5" height="23" rx="3.2" fill="#d63c3f"/>
<text x="1203.5" y="148.4" font-family="Liberation Sans, sans-serif" font-size="15.6" fill="#fff" textLength="66.2" lengthAdjust="spacingAndGlyphs">0.20441</text>
<rect x="1187.5" y="199.9" width="91.5" height="23" rx="3.2" fill="#d63c3f"/>
<text x="1203.5" y="217.0" font-family="Liberation Sans, sans-serif" font-size="15.6" fill="#fff" textLength="66.2" lengthAdjust="spacingAndGlyphs">0.20162</text>
<rect x="1187.5" y="279.8" width="91.5" height="23" rx="3.2" fill="#d63c3f"/>
<text x="1203.5" y="296.9" font-family="Liberation Sans, sans-serif" font-size="15.6" fill="#fff" textLength="66.2" lengthAdjust="spacingAndGlyphs">0.19833</text>
<rect x="1187.5" y="373.5" width="91.5" height="23" rx="3.2" fill="#d63c3f"/>
<text x="1203.5" y="390.6" font-family="Liberation Sans, sans-serif" font-size="15.6" fill="#fff" textLength="66.2" lengthAdjust="spacingAndGlyphs">0.19446</text>
<rect x="1187.5" y="442.7" width="91.5" height="23" rx="3.2" fill="#d63c3f"/>
<text x="1203.5" y="459.8" font-family="Liberation Sans, sans-serif" font-size="15.6" fill="#fff" textLength="66.2" lengthAdjust="spacingAndGlyphs">0.19133</text>
<rect x="1187.5" y="488.1" width="91.5" height="23" rx="3.2" fill="#0f9a56"/>
<text x="1203.5" y="505.2" font-family="Liberation Sans, sans-serif" font-size="15.6" fill="#fff" textLength="66.2" lengthAdjust="spacingAndGlyphs">0.19056</text>
<rect x="1187.5" y="465.5" width="91.5" height="23" rx="3.2" fill="#27b36d"/>
<text x="1203.5" y="482.6" font-family="Liberation Sans, sans-serif" font-size="15.6" fill="#fff" textLength="66.2" lengthAdjust="spacingAndGlyphs">0.19069</text>
<rect x="1187.5" y="547.7" width="91.5" height="23" rx="3.2" fill="#d63c3f"/>
<text x="1203.5" y="564.8" font-family="Liberation Sans, sans-serif" font-size="15.6" fill="#fff" textLength="66.2" lengthAdjust="spacingAndGlyphs">0.18729</text>
<rect x="1187.5" y="570.3" width="91.5" height="23" rx="3.2" fill="#0f9a56"/>
<text x="1203.5" y="587.4" font-family="Liberation Sans, sans-serif" font-size="15.6" fill="#fff" textLength="66.2" lengthAdjust="spacingAndGlyphs">0.18654</text>
<rect x="1187.5" y="603.2" width="91.5" height="23" rx="3.2" fill="#0f9a56"/>
<text x="1203.5" y="620.3" font-family="Liberation Sans, sans-serif" font-size="15.6" fill="#fff" textLength="66.2" lengthAdjust="spacingAndGlyphs">0.18503</text>
<rect x="1187.5" y="698.8" width="91.5" height="23" rx="3.2" fill="#0f9a56"/>
<text x="1203.5" y="715.9" font-family="Liberation Sans, sans-serif" font-size="15.6" fill="#fff" textLength="66.2" lengthAdjust="spacingAndGlyphs">0.18034</text>
<g stroke="#a3a3a8" stroke-width="1.6" fill="none" stroke-linecap="round"><circle cx="1236" cy="742.7" r="7.4"/>
<line x1="1236.0" y1="750.9" x2="1236.0" y2="754.1"/>
<line x1="1230.2" y1="748.5" x2="1227.9" y2="750.8"/>
<line x1="1227.8" y1="742.7" x2="1224.6" y2="742.7"/>
<line x1="1230.2" y1="736.9" x2="1227.9" y2="734.6"/>
<line x1="1236.0" y1="734.5" x2="1236.0" y2="731.3"/>
<line x1="1241.8" y1="736.9" x2="1244.1" y2="734.6"/>
<line x1="1244.2" y1="742.7" x2="1247.4" y2="742.7"/>
<line x1="1241.8" y1="748.5" x2="1244.1" y2="750.8"/>
</g>
<circle cx="38" cy="685" r="26.2" fill="#1b1e2a" stroke="#2e3039" stroke-width="2"/>
<path d="M21 678h15v17.7h-7.2v-10.4h-7.8z" fill="#fff"/><circle cx="39.800" cy="680.500" r="2.500" fill="#fff"/><path d="M48.200 678h7.700l-7.400 17.700h-7.700z" fill="#fff"/>
<rect x="0" y="0" width="1280" height="25.5" fill="#131317"/>
<rect x="1001" y="-14" width="200" height="20.5" rx="3" fill="#2a2b31"/>
<path d="M1004 -14h23.500v20.500h-23.500a3 3 0 0 1-3-3v-14.500z" fill="#2962ff"/>
<text x="-6" y="0.9" font-family="Liberation Sans, sans-serif" font-size="17"  fill="#e6c229" textLength="22" lengthAdjust="spacingAndGlyphs">1m</text>
<text x="46" y="0.9" font-family="Liberation Sans, sans-serif" font-size="17"  fill="#c4c4c8" textLength="25" lengthAdjust="spacingAndGlyphs">3m</text>
<text x="99" y="0.9" font-family="Liberation Sans, sans-serif" font-size="17"  fill="#c4c4c8" textLength="38" lengthAdjust="spacingAndGlyphs">15m</text>
<text x="165" y="0.9" font-family="Liberation Sans, sans-serif" font-size="17"  fill="#c4c4c8" textLength="39" lengthAdjust="spacingAndGlyphs">30m</text>
<text x="232" y="0.9" font-family="Liberation Sans, sans-serif" font-size="17"  fill="#c4c4c8" textLength="23" lengthAdjust="spacingAndGlyphs">1h</text>
<text x="281" y="0.9" font-family="Liberation Sans, sans-serif" font-size="17"  fill="#c4c4c8" textLength="21" lengthAdjust="spacingAndGlyphs">4h</text>
<text x="329" y="0.9" font-family="Liberation Sans, sans-serif" font-size="17"  fill="#c4c4c8" textLength="21" lengthAdjust="spacingAndGlyphs">1d</text>
<text x="379" y="0.9" font-family="Liberation Sans, sans-serif" font-size="17"  fill="#c4c4c8" textLength="22" lengthAdjust="spacingAndGlyphs">1w</text>
<text x="431" y="0.9" font-family="Liberation Sans, sans-serif" font-size="17"  fill="#c4c4c8" textLength="25" lengthAdjust="spacingAndGlyphs">1M</text>
<line x1="502.500" y1="0" x2="502.500" y2="6" stroke="#3a3a40" stroke-width="1.2"/>
<text x="517" y="0.9" font-family="Liberation Sans, sans-serif" font-size="17"  fill="#c4c4c8" textLength="88" lengthAdjust="spacingAndGlyphs">Indicators</text>
<text x="642" y="0.9" font-family="Liberation Sans, sans-serif" font-size="17"  fill="#c4c4c8" textLength="60" lengthAdjust="spacingAndGlyphs">Display</text>
<text x="744" y="0.9" font-family="Liberation Sans, sans-serif" font-size="17"  fill="#c4c4c8" textLength="146" lengthAdjust="spacingAndGlyphs">Last Traded Price</text>
<line x1="929" y1="0" x2="929" y2="6" stroke="#3a3a40" stroke-width="1.2"/>
<path d="M946.500 0v3M953.500 0v3" stroke="#c4c4c8" stroke-width="1.5"/>
<text x="1009" y="0.9" font-family="Liberation Sans, sans-serif" font-size="17"  fill="#fff" textLength="11" lengthAdjust="spacingAndGlyphs">tv</text>
<text x="1040" y="0.9" font-family="Liberation Sans, sans-serif" font-size="17"  fill="#c4c4c8" textLength="150" lengthAdjust="spacingAndGlyphs">TradingView Alert</text>
<path d="M1216.500 -4v5a2 2 0 0 0 2 2h16.500a2 2 0 0 0 2-2v-5" stroke="#c4c4c8" stroke-width="1.6" fill="none"/>
<path d="M1258 -4v3a5 5 0 0 0 5 5h6" stroke="#c4c4c8" stroke-width="1.6" fill="none"/>
</svg>
</body></html>
